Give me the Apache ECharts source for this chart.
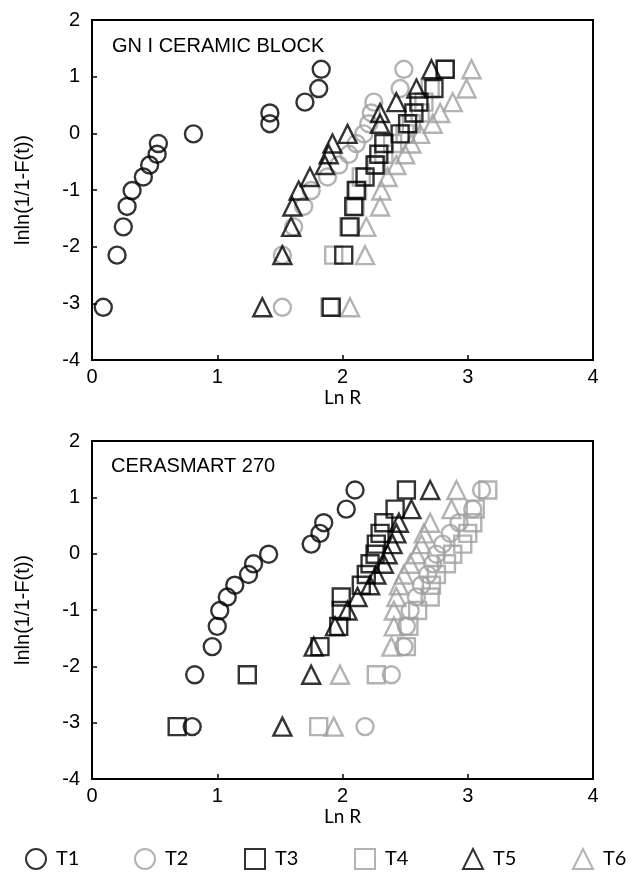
<!DOCTYPE html>
<html>
<head>
<meta charset="utf-8">
<script src="https://cdn.jsdelivr.net/npm/echarts@6/dist/echarts.min.js"></script>
<style>
  html, body { margin: 0; padding: 0; background: #fff; }
  #chart { width: 633px; height: 887px; }
</style>
</head>
<body>
<div id="chart"></div>
<script>
// y levels (median ranks), shared by every series
var yLevels = [-3.07, -2.15, -1.65, -1.29, -1.01, -0.77, -0.56, -0.37, -0.18, -0.01, 0.17, 0.36, 0.55, 0.79, 1.13];

var seriesNames = ['T1', 'T2', 'T3', 'T4', 'T5', 'T6'];

// GN I CERAMIC BLOCK - Ln R
var topT1 = [0.09, 0.20, 0.25, 0.28, 0.32, 0.41, 0.46, 0.52, 0.53, 0.81, 1.42, 1.42, 1.70, 1.81, 1.83];
var topT2 = [1.52, 1.52, 1.61, 1.69, 1.75, 1.88, 1.97, 2.05, 2.11, 2.17, 2.21, 2.23, 2.25, 2.46, 2.49];
var topT3 = [1.91, 2.01, 2.06, 2.09, 2.11, 2.18, 2.26, 2.29, 2.33, 2.46, 2.52, 2.57, 2.61, 2.73, 2.82];
var topT4 = [1.90, 1.93, 2.05, 2.10, 2.12, 2.15, 2.27, 2.33, 2.40, 2.50, 2.55, 2.62, 2.65, 2.70, 2.82];
var topT5 = [1.36, 1.52, 1.59, 1.60, 1.65, 1.74, 1.86, 1.89, 1.92, 2.04, 2.30, 2.30, 2.43, 2.59, 2.71];
var topT6 = [2.06, 2.18, 2.19, 2.30, 2.31, 2.36, 2.43, 2.50, 2.55, 2.62, 2.72, 2.78, 2.88, 2.99, 3.03];

// CERASMART 270 - Ln R
var botT1 = [0.80, 0.82, 0.96, 1.00, 1.02, 1.08, 1.14, 1.25, 1.29, 1.41, 1.75, 1.82, 1.85, 2.03, 2.10];
var botT2 = [2.18, 2.39, 2.49, 2.51, 2.54, 2.59, 2.63, 2.68, 2.72, 2.75, 2.80, 2.86, 2.93, 3.04, 3.11];
var botT3 = [0.68, 1.24, 1.82, 1.97, 1.99, 1.99, 2.15, 2.19, 2.22, 2.26, 2.27, 2.30, 2.33, 2.42, 2.51];
var botT4 = [1.81, 2.27, 2.51, 2.53, 2.60, 2.70, 2.71, 2.75, 2.83, 2.88, 2.96, 3.00, 3.04, 3.06, 3.16];
var botT5 = [1.52, 1.75, 1.77, 1.94, 2.04, 2.12, 2.22, 2.27, 2.33, 2.36, 2.40, 2.43, 2.45, 2.55, 2.70];
var botT6 = [1.93, 1.98, 2.39, 2.41, 2.41, 2.43, 2.45, 2.49, 2.54, 2.59, 2.63, 2.65, 2.70, 2.87, 2.91];

var xTickLabels = ['0', '1', '2', '3', '4'];
var yTickLabels = ['-4', '-3', '-2', '-1', '0', '1', '2'];

var topX = [topT1, topT2, topT3, topT4, topT5, topT6];
var botX = [botT1, botT2, botT3, botT4, botT5, botT6];

var black = '#000000';
var gray = '#a0a0a0';
var markers = [
  {symbol: 'circle', color: black, size: 17},
  {symbol: 'circle', color: gray, size: 17},
  {symbol: 'rect', color: black, size: 17},
  {symbol: 'rect', color: gray, size: 17},
  {symbol: 'triangle', color: black, size: 18},
  {symbol: 'triangle', color: gray, size: 18}
];

function pairs(xs) {
  return xs.map(function (x, i) { return [x, yLevels[i]]; });
}

var series = [];
[topX, botX].forEach(function (group, g) {
  group.forEach(function (xs, k) {
    series.push({
      name: seriesNames[k],
      type: 'scatter',
      xAxisIndex: g,
      yAxisIndex: g,
      symbol: markers[k].symbol,
      symbolSize: markers[k].size,
      data: pairs(xs),
      z: 10 - k % 2,
      itemStyle: {
        color: 'rgba(255,255,255,0)',
        borderColor: markers[k].color,
        borderWidth: 2.4
      }
    });
  });
});

var axisFont = "'Liberation Sans', Arial, sans-serif";
var nameFont = "Lato, 'Open Sans', sans-serif";

function xAxis(idx) {
  return {
    gridIndex: idx,
    type: 'value',
    min: 0, max: 4, interval: 1,
    name: 'Ln R',
    nameLocation: 'middle',
    nameGap: 26,
    nameTextStyle: {fontSize: 19, color: '#000', fontFamily: nameFont},
    axisLine: {onZero: false, lineStyle: {color: '#000', width: 2}},
    axisTick: {inside: true, length: 5, lineStyle: {color: '#000', width: 1.5}},
    axisLabel: {
      fontSize: 20, color: '#000', fontFamily: axisFont, margin: 7,
      formatter: function (v) { return xTickLabels[Math.round(v)]; }
    },
    splitLine: {show: false}
  };
}

function yAxis(idx) {
  return {
    gridIndex: idx,
    type: 'value',
    min: -4, max: 2, interval: 1,
    name: 'lnln(1/1-F(t))',
    nameLocation: 'middle',
    nameRotate: 90,
    nameGap: 59,
    nameTextStyle: {fontSize: 20, color: '#000', fontFamily: axisFont},
    axisLine: {onZero: false, lineStyle: {color: '#000', width: 2}},
    axisTick: {inside: true, length: 5, lineStyle: {color: '#000', width: 1.5}},
    axisLabel: {
      fontSize: 20, color: '#000', fontFamily: axisFont, margin: 12,
      formatter: function (v) { return yTickLabels[Math.round(v) + 4]; }
    },
    splitLine: {show: false}
  };
}

// one legend block per item so each can sit where the reference has it
var legendLefts = [20, 129, 239, 349, 457, 567];
var legends = seriesNames.map(function (n, i) {
  return {
    data: [n],
    left: legendLefts[i],
    top: 843,
    itemWidth: 20,
    itemHeight: 20,
    selectedMode: false,
    textStyle: {fontSize: 20, color: '#000', fontFamily: nameFont, padding: [0, 0, 0, 5]}
  };
});

var myChart = echarts.init(document.getElementById('chart'));
myChart.setOption({
  animation: false,
  backgroundColor: '#fff',
  title: [
    {text: 'GN I CERAMIC BLOCK', left: 107, top: 31,
      textStyle: {fontSize: 20, fontWeight: 'normal', color: '#000', fontFamily: axisFont}},
    {text: 'CERASMART 270', left: 106, top: 451,
      textStyle: {fontSize: 20, fontWeight: 'normal', color: '#000', fontFamily: axisFont}}
  ],
  grid: [
    {left: 92, width: 501, top: 20, height: 340, show: true, borderColor: '#000', borderWidth: 2},
    {left: 92, width: 501, top: 441, height: 338, show: true, borderColor: '#000', borderWidth: 2}
  ],
  xAxis: [xAxis(0), xAxis(1)],
  yAxis: [yAxis(0), yAxis(1)],
  legend: legends,
  series: series
});
</script>
</body>
</html>
